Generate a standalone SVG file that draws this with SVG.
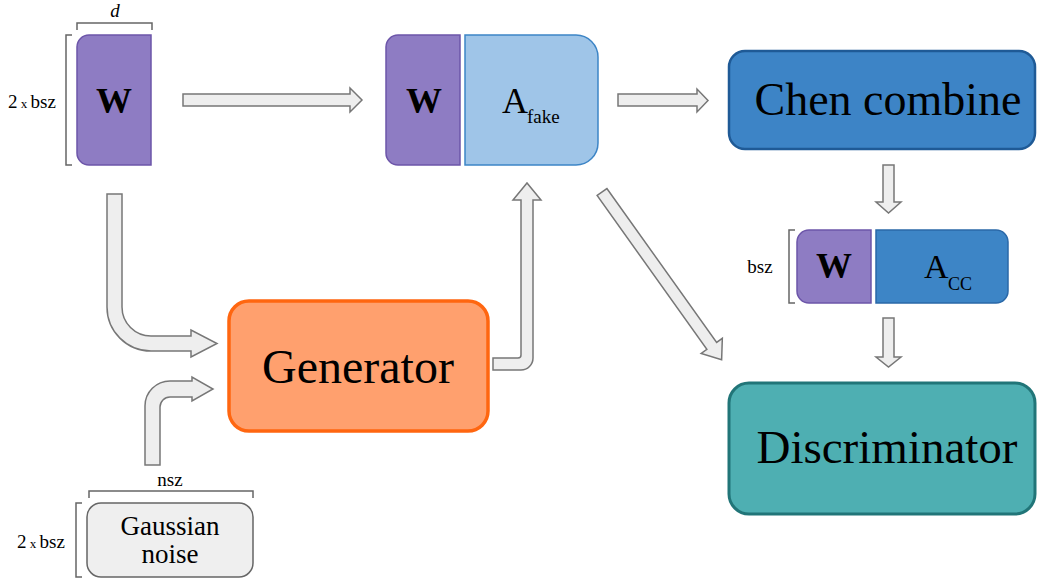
<svg xmlns="http://www.w3.org/2000/svg" width="1037" height="579" viewBox="0 0 1037 579">
<style>
text{font-family:"Liberation Serif",serif !important}
.arr{fill:#eeeeee;stroke:#777777;stroke-width:1.5;stroke-linejoin:miter}
.br{fill:none;stroke:#666666;stroke-width:1.5}
.purple{fill:#8e7cc3;stroke:#6c55a9;stroke-width:1.5}
</style>
<rect width="1037" height="579" fill="#ffffff"/>

<g id="w-input">
  <path class="purple" d="M89,35 L151,35 L151,165 L89,165 A12,12 0 0 1 77,153 L77,47 A12,12 0 0 1 89,35 Z"/>
  <text font-family="Liberation Serif" font-size="36" font-weight="bold" x="114" y="113" text-anchor="middle">W</text>
  <path class="br" d="M77,30 L77,23 L152,23 L152,30"/>
  <text font-family="Liberation Serif" x="115" y="17" font-size="19" font-style="italic" text-anchor="middle">d</text>
  <path class="br" d="M72,35 L66,35 L66,165 L72,165"/>
  <text font-family="Liberation Serif" font-size="19" x="8" y="108">2<tspan font-size="13"> x </tspan>bsz</text>
</g>

<g id="w-afake">
  <path class="purple" d="M398,35 L460,35 L460,165 L398,165 A12,12 0 0 1 386,153 L386,47 A12,12 0 0 1 398,35 Z"/>
  <text font-family="Liberation Serif" font-size="36" font-weight="bold" x="424" y="113" text-anchor="middle">W</text>
  <path d="M465,35 L576,35 A22,22 0 0 1 598,57 L598,143 A22,22 0 0 1 576,165 L465,165 Z" fill="#9fc5e8" stroke="#3d85c6" stroke-width="1.5"/>
  <text font-family="Liberation Serif" x="502" y="113" font-size="36">A</text>
  <text font-family="Liberation Serif" x="527" y="123" font-size="19">fake</text>
</g>

<g id="chen-combine">
  <rect x="729" y="51" width="306" height="98" rx="16" fill="#3d84c6" stroke="#1f5a96" stroke-width="2.5"/>
  <text font-family="Liberation Serif" font-size="46" x="888" y="115" text-anchor="middle">Chen combine</text>
</g>

<g id="w-acc">
  <path class="purple" d="M809,230 L871,230 L871,303 L809,303 A12,12 0 0 1 797,291 L797,242 A12,12 0 0 1 809,230 Z"/>
  <text font-family="Liberation Serif" font-size="36" font-weight="bold" x="834" y="278" text-anchor="middle">W</text>
  <path d="M876,230 L996,230 A12,12 0 0 1 1008,242 L1008,291 A12,12 0 0 1 996,303 L876,303 Z" fill="#3d85c6" stroke="#2a68a8" stroke-width="1.5"/>
  <text font-family="Liberation Serif" x="924" y="278" font-size="34">A</text>
  <text font-family="Liberation Serif" x="948" y="290" font-size="18">CC</text>
  <path class="br" d="M795,230 L789,230 L789,303 L795,303"/>
  <text font-family="Liberation Serif" font-size="19" x="760" y="273" text-anchor="middle">bsz</text>
</g>

<g id="generator">
  <rect x="229" y="301" width="259" height="130" rx="20" fill="#ffa06e" stroke="#ff6610" stroke-width="3.5"/>
  <text font-family="Liberation Serif" font-size="48" x="358" y="383" text-anchor="middle">Generator</text>
</g>

<g id="discriminator">
  <rect x="729" y="383" width="306" height="131" rx="20" fill="#4eafb2" stroke="#217578" stroke-width="3"/>
  <text font-family="Liberation Serif" font-size="47" x="887" y="463" text-anchor="middle">Discriminator</text>
</g>

<g id="gaussian-noise">
  <rect x="87" y="503" width="166" height="74" rx="14" fill="#efefef" stroke="#666666" stroke-width="1.5"/>
  <text font-family="Liberation Serif" x="170" y="535" font-size="27" text-anchor="middle">Gaussian</text>
  <text font-family="Liberation Serif" x="170" y="563" font-size="27" text-anchor="middle">noise</text>
  <path class="br" d="M89,498 L89,491 L253,491 L253,498"/>
  <text font-family="Liberation Serif" font-size="19" x="170" y="486" text-anchor="middle">nsz</text>
  <path class="br" d="M82,503 L76,503 L76,577 L82,577"/>
  <text font-family="Liberation Serif" font-size="19" x="17" y="548">2<tspan font-size="13"> x </tspan>bsz</text>
</g>

<g id="connectors">
  <path class="arr" d="M183,94 L350,94 L350,88 L362,100 L350,112 L350,106 L183,106 Z"/>
  <path class="arr" d="M618,94 L697,94 L697,89 L708,100.5 L697,112 L697,106 L618,106 Z"/>
  <path class="arr" d="M883,165 L894,165 L894,202 L901,202 L888.5,213 L876,202 L883,202 Z"/>
  <path class="arr" d="M883,318 L894,318 L894,357 L901,357 L888.5,367 L876,357 L883,357 Z"/>
  <path class="arr" d="M107,194 L107,307 A44,44 0 0 0 151,351 L191,351 L191,357 L217,343.5 L191,330 L191,336 L151,336 A29,29 0 0 1 122,307 L122,194 Z"/>
  <path class="arr" d="M145,465 L145,406 A25,25 0 0 1 170,381 L192,381 L192,377 L213,389 L192,401 L192,397 L170,397 A10,10 0 0 0 160,407 L160,465 Z"/>
  <path class="arr" d="M493,358 L518,358 A3,3 0 0 0 521,355 L521,200 L513,200 L527,183 L541,200 L533,200 L533,358 A12,12 0 0 1 521,370 L493,370 Z"/>
  <path class="arr" transform="translate(602,192) rotate(54.5)" d="M0,-6 L189,-6 L189,-13 L206,0 L189,13 L189,6 L0,6 Z"/>
</g>
</svg>
